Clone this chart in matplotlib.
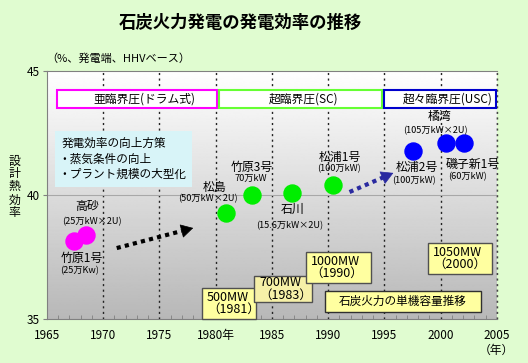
import matplotlib
matplotlib.use("Agg")
import matplotlib.pyplot as plt
import numpy as np
from matplotlib.patches import Rectangle

plt.rcParams['font.family'] = ['Noto Sans CJK JP', 'DejaVu Sans']

# data
sub_names = ['竹原1号', '高砂']
sub_caps = ['(25万Kw)', '(25万kW×2U)']
sub_years = [1967.4, 1968.5]
sub_eff = [38.15, 38.4]

sc_names = ['松島', '竹原3号', '石川', '松浦1号']
sc_caps = ['(50万kW×2U)', '70万kW', '(15.6万kW×2U)', '(100万kW)']
sc_years = [1980.9, 1983.2, 1986.8, 1990.4]
sc_eff = [39.27, 40.0, 40.08, 40.4]

usc_names = ['松浦2号', '橘湾', '磯子新1号']
usc_caps = ['(100万kW)', '(105万kW×2U)', '(60万kW)']
usc_years = [1997.5, 2000.5, 2002.1]
usc_eff = [41.77, 42.1, 42.1]

regimes = ['亜臨界圧(ドラム式)', '超臨界圧(SC)', '超々臨界圧(USC)']
unit_sizes = ['500MW\n（1981）', '700MW\n（1983）', '1000MW\n（1990）', '1050MW\n（2000）']

xticks = [1965, 1970, 1975, 1980, 1985, 1990, 1995, 2000, 2005]
xticklabels = ['1965', '1970', '1975', '1980年', '1985', '1990', '1995', '2000', '2005']
yticks = [35, 40, 45]

bg = '#E0FCD0'
fig = plt.figure(figsize=(5.28, 3.63), dpi=100, facecolor=bg)
ax = fig.add_axes([0.089, 0.1212, 0.852, 0.6832])
ax.set_xlim(1965, 2005)
ax.set_ylim(35, 45)

# grey gradient background
grad = np.linspace(1.0, 0.72, 256).reshape(-1, 1)
ax.imshow(grad, cmap='gray', vmin=0, vmax=1, extent=[1965, 2005, 35, 45],
          aspect='auto', origin='upper', zorder=0)

for x in xticks[1:]:
    ax.axvline(x, color='#222222', lw=1, ls=(0, (1.5, 2.5)), zorder=1)
ax.axhline(40, color='#A8A8A8', lw=0.8, zorder=1)

for s in ['left', 'bottom', 'top']:
    ax.spines[s].set_color('#808080')
ax.spines['right'].set_visible(False)

ax.set_xticks(xticks)
ax.set_xticklabels(xticklabels, fontsize=8.5)
ax.set_xticks(np.arange(1965, 2006, 1), minor=True)
ax.tick_params(axis='x', which='major', length=0, pad=7)
ax.tick_params(axis='x', which='minor', direction='in', length=3, color='#808080')
ax.set_yticks(yticks)
ax.set_yticklabels([str(v) for v in yticks], fontsize=8.5)
ax.tick_params(axis='y', length=3, color='#808080', pad=2)
ax.text(2005, 33.72, '（年）', fontsize=8.5, ha='center', va='center', clip_on=False)

# efficiency points
ax.scatter(sub_years, sub_eff, s=150, color='#FF00FF', zorder=5, clip_on=False)
ax.scatter(sc_years, sc_eff, s=150, color='#00EE00', zorder=5, clip_on=False)
ax.scatter(usc_years, usc_eff, s=150, color='#0000FF', zorder=5, clip_on=False)

name_pos = [(1968.1, 37.46), (1968.6, 39.52), (1979.9, 40.32), (1983.2, 41.13),
            (1986.8, 39.40), (1991.0, 41.53), (1997.9, 41.13), (1999.9, 43.15),
            (2002.9, 41.25)]
cap_pos = [(1967.9, 36.94), (1969.0, 38.91), (1979.3, 39.84), (1983.1, 40.65),
           (1986.6, 38.75), (1991.0, 41.05), (1997.6, 40.56), (1999.5, 42.58),
           (2002.4, 40.73)]
for name, cap, (nx, ny), (cx, cy) in zip(sub_names + sc_names + usc_names,
                                        sub_caps + sc_caps + usc_caps,
                                        name_pos, cap_pos):
    ax.text(nx, ny, name, fontsize=8.6, ha='center', va='center', zorder=6)
    ax.text(cx, cy, cap, fontsize=6.6, ha='center', va='center', zorder=6)

# regime boxes
reg_x = [(1965.9, 1980.1), (1980.3, 1994.8), (1995.0, 2004.9)]
reg_col = ['#FF00FF', '#66FF33', '#0000CC']
reg_tx = [1973.7, 1987.8, 2000.6]
for label, (x0, x1), c, tx in zip(regimes, reg_x, reg_col, reg_tx):
    ax.add_patch(Rectangle((x0, 43.5), x1 - x0, 0.73, facecolor='white',
                           edgecolor=c, lw=1.5, zorder=3))
    ax.text(tx, 43.87, label, fontsize=8.5, ha='center', va='center', zorder=4)

# improvement measures box
ax.add_patch(Rectangle((1965.7, 40.32), 12.2, 2.26, facecolor='#D8F4F8',
                       edgecolor='none', zorder=3))
ax.text(1966.3, 42.1, '発電効率の向上方策', fontsize=8.4, va='center', zorder=4)
ax.text(1966.0, 41.45, '・蒸気条件の向上', fontsize=8.4, va='center', zorder=4)
ax.text(1966.0, 40.85, '・プラント規模の大型化', fontsize=8.4, va='center', zorder=4)

# dotted trend arrows
for (x0, y0), (x1, y1), c in [((1971.2, 37.86), (1978.0, 38.67), 'black'),
                              ((1991.9, 40.12), (1995.8, 40.89), '#2A2AA0')]:
    fx = x0 + (x1 - x0) * 0.85
    fy = y0 + (y1 - y0) * 0.85
    ax.plot([x0, fx], [y0, fy], color=c, lw=3, ls=(0, (1, 1)), zorder=4)
    ax.annotate('', xy=(x1, y1), xytext=(fx, fy), zorder=4,
                arrowprops=dict(arrowstyle='-|>,head_length=0.8,head_width=0.45',
                                color=c, lw=0.5, shrinkA=0, shrinkB=0))

# unit capacity boxes
unit_box = [(1978.78, 35.0, 4.8, 1.25), (1983.4, 35.69, 5.16, 1.04),
            (1988.0, 36.45, 5.8, 1.25), (1998.87, 36.81, 5.69, 1.25)]
unit_fill = ['#FFFFA0', '#F6F0A8', '#FFFFA0', '#FFFFA0']
for txt, (bx, by, bw, bh), fc in zip(unit_sizes, unit_box, unit_fill):
    ax.add_patch(Rectangle((bx, by), bw, bh, facecolor=fc, edgecolor='#505050',
                           lw=1, zorder=3, clip_on=False))
    ax.text(bx + 0.45, by + bh / 2, txt, fontsize=9, va='center', ha='left',
            linespacing=0.9, zorder=4)
ax.add_patch(Rectangle((1989.7, 35.28), 13.9, 0.85, facecolor='#FFFFA0',
                       edgecolor='#303030', lw=1, zorder=3))
ax.text(1996.65, 35.7, '石炭火力の単機容量推移', fontsize=8.4, ha='center',
        va='center', zorder=4)

# dotted right edge
ax.axvline(2005, color='#444444', lw=1, ls=(0, (1.5, 2.5)), zorder=2, clip_on=False)

fig.text(0.455, 0.937, '石炭火力発電の発電効率の推移', fontsize=12.5,
         fontweight='bold', ha='center', va='center')
fig.text(0.088, 0.84, '（%、発電端、HHVベース）', fontsize=8, ha='left', va='center')
fig.text(0.028, 0.485, '\n'.join('設計熱効率'), fontsize=8.6, ha='center',
         va='center', linespacing=1.0)

fig.savefig('out.png', dpi=100, facecolor=bg)
